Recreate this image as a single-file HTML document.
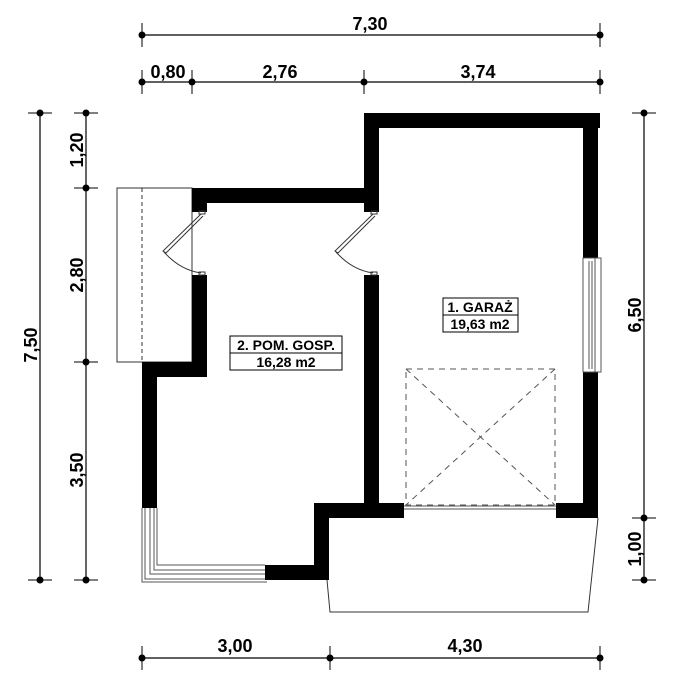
<!DOCTYPE html>
<html><head><meta charset="utf-8"><style>html,body{margin:0;padding:0;background:#fff}svg{display:block}</style></head><body>
<svg width="677" height="688" viewBox="0 0 677 688" xmlns="http://www.w3.org/2000/svg" font-family="Liberation Sans, Arial, sans-serif" font-weight="bold">
<rect width="677" height="688" fill="#fff"/>
<g stroke="#000" stroke-width="1.2" fill="none">
 <line x1="142" y1="35" x2="600" y2="35"/>
 <line x1="142" y1="82" x2="600" y2="82"/>
 <line x1="40" y1="113" x2="40" y2="580"/>
 <line x1="86" y1="113" x2="86" y2="580"/>
 <line x1="644" y1="113" x2="644" y2="580"/>
 <line x1="142" y1="658" x2="600" y2="658"/>
</g>
<g stroke="#000" stroke-width="1" fill="#000">
 <line x1="142" y1="23" x2="142" y2="47"/><circle cx="142" cy="35" r="3"/>
 <line x1="600" y1="23" x2="600" y2="47"/><circle cx="600" cy="35" r="3"/>
 <line x1="142" y1="70" x2="142" y2="94"/><circle cx="142" cy="82" r="3"/>
 <line x1="192" y1="70" x2="192" y2="94"/><circle cx="192" cy="82" r="3"/>
 <line x1="364" y1="70" x2="364" y2="94"/><circle cx="364" cy="82" r="3"/>
 <line x1="600" y1="70" x2="600" y2="94"/><circle cx="600" cy="82" r="3"/>
 <line x1="142" y1="646" x2="142" y2="670"/><circle cx="142" cy="658" r="3"/>
 <line x1="330" y1="646" x2="330" y2="670"/><circle cx="330" cy="658" r="3"/>
 <line x1="600" y1="646" x2="600" y2="670"/><circle cx="600" cy="658" r="3"/>
 <line x1="28" y1="113" x2="52" y2="113"/><circle cx="40" cy="113" r="3"/>
 <line x1="28" y1="580" x2="52" y2="580"/><circle cx="40" cy="580" r="3"/>
 <line x1="74" y1="113" x2="98" y2="113"/><circle cx="86" cy="113" r="3"/>
 <line x1="74" y1="188" x2="98" y2="188"/><circle cx="86" cy="188" r="3"/>
 <line x1="74" y1="362" x2="98" y2="362"/><circle cx="86" cy="362" r="3"/>
 <line x1="74" y1="580" x2="98" y2="580"/><circle cx="86" cy="580" r="3"/>
 <line x1="632" y1="113" x2="656" y2="113"/><circle cx="644" cy="113" r="3"/>
 <line x1="632" y1="518" x2="656" y2="518"/><circle cx="644" cy="518" r="3"/>
 <line x1="632" y1="580" x2="656" y2="580"/><circle cx="644" cy="580" r="3"/>
</g>
<g font-size="18" fill="#000" text-anchor="middle">
 <text x="370" y="30">7,30</text>
 <text x="168" y="78">0,80</text>
 <text x="280" y="78">2,76</text>
 <text x="478" y="78">3,74</text>
 <text x="235" y="652">3,00</text>
 <text x="465" y="652">4,30</text>
 <text transform="translate(83,150) rotate(-90)">1,20</text>
 <text transform="translate(83,275) rotate(-90)">2,80</text>
 <text transform="translate(83,470) rotate(-90)">3,50</text>
 <text transform="translate(37,345) rotate(-90)">7,50</text>
 <text transform="translate(641,315) rotate(-90)">6,50</text>
 <text transform="translate(641,549) rotate(-90)">1,00</text>
</g>
<rect x="117" y="188" width="75" height="174" fill="none" stroke="#333" stroke-width="1"/>
<line x1="142" y1="188" x2="142" y2="362" stroke="#333" stroke-width="1" stroke-dasharray="4,3"/>
<path d="M327 580 L330 612 L588 612 L598 518" fill="none" stroke="#333" stroke-width="1"/>
<g fill="#000">
 <rect x="364" y="113" width="236" height="15"/>
 <rect x="583" y="113" width="15" height="145"/>
 <rect x="583" y="372" width="15" height="146"/>
 <rect x="556" y="503" width="42" height="15"/>
 <rect x="364" y="113" width="15" height="99"/>
 <rect x="364" y="275" width="15" height="235"/>
 <rect x="192" y="188" width="187" height="15"/>
 <rect x="192" y="188" width="15" height="24"/>
 <rect x="192" y="275" width="15" height="102"/>
 <rect x="142" y="362" width="65" height="15"/>
 <rect x="142" y="362" width="15" height="146"/>
 <rect x="314" y="503" width="90" height="15"/>
 <rect x="314" y="503" width="15" height="77"/>
 <rect x="265" y="565" width="64" height="15"/>
</g>
<g fill="none" stroke="#555" stroke-width="1">
 <path d="M142 508 L142 582 L267 582"/>
 <path d="M145 508 L145 579 L265 579"/>
 <path d="M150 508 L150 574 L265 574"/>
 <path d="M154 508 L154 570 L265 570"/>
 <path d="M157 508 L157 565 L265 565"/>
</g>
<g fill="none" stroke="#555" stroke-width="1">
 <rect x="583" y="258" width="18" height="114"/>
 <line x1="589" y1="261" x2="589" y2="369"/>
 <line x1="592" y1="261" x2="592" y2="369"/>
 <line x1="595" y1="258" x2="595" y2="372"/>
</g>
<g fill="none" stroke="#555" stroke-width="1">
 <line x1="404" y1="506" x2="556" y2="506"/>
 <line x1="404" y1="509" x2="556" y2="509"/>
 <g stroke-dasharray="6,5">
 <rect x="406" y="369" width="149" height="136"/>
 <line x1="406" y1="369" x2="555" y2="505"/>
 <line x1="555" y1="369" x2="406" y2="505"/>
 </g>
</g>
<g fill="none" stroke="#333" stroke-width="1">
 <path d="M201 214 L163 251 L166 253 L203 216"/>
 <path d="M164 252 Q180 270 201 273"/>
 <rect x="199" y="211" width="6" height="3"/><rect x="199" y="272" width="6" height="3"/>
 <path d="M373 214 L335 251 L338 253 L375 216"/>
 <path d="M336 252 Q352 270 373 273"/>
 <rect x="371" y="211" width="6" height="3"/><rect x="371" y="272" width="6" height="3"/>
</g>
<g fill="#fff" stroke="#000" stroke-width="1">
 <rect x="230" y="336" width="112" height="17"/>
 <rect x="230" y="353" width="112" height="17"/>
 <rect x="443" y="298" width="75" height="17"/>
 <rect x="443" y="315" width="75" height="17"/>
</g>
<g font-size="14" fill="#000" text-anchor="middle">
 <text x="286" y="350">2. POM. GOSP.</text>
 <text x="286" y="367">16,28 m2</text>
 <text x="480" y="312">1. GARAŻ</text>
 <text x="480" y="329">19,63 m2</text>
</g>
</svg>
</body></html>
